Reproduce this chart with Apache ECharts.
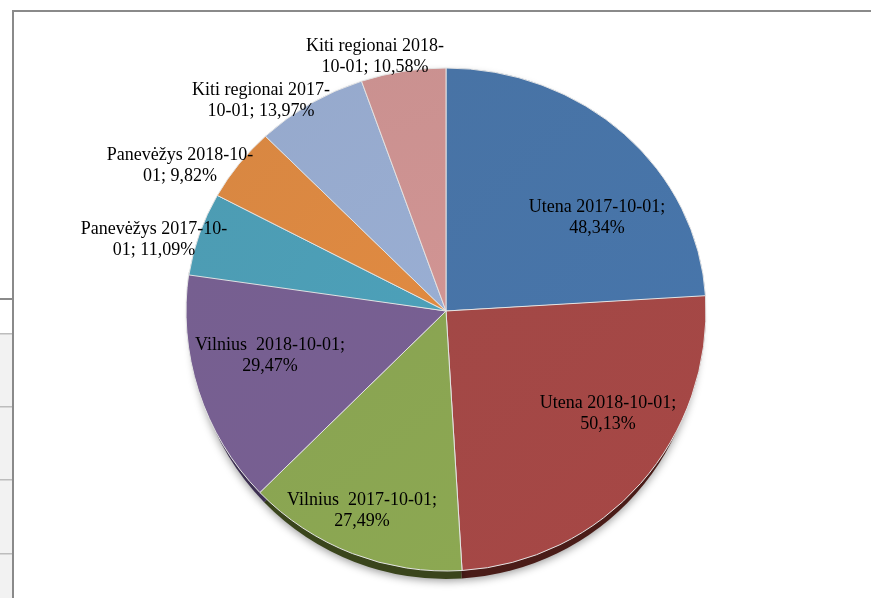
<!DOCTYPE html>
<html>
<head>
<meta charset="utf-8">
<script src="https://cdn.jsdelivr.net/npm/echarts@6/dist/echarts.min.js"></script>
<style>
  html, body { margin: 0; padding: 0; background: #fff; }
  #pie { width: 871px; height: 598px; }
</style>
</head>
<body>
<div id="pie"></div>
<script>
// reiksmes nuskaitytos nuo paveikslo
const names = [
  "Utena 2017-10-01;\n",
  "Utena 2018-10-01;\n",
  "Vilnius  2017-10-01;\n",
  "Vilnius  2018-10-01;\n",
  "Panevėžys 2017-10-\n01; ",
  "Panevėžys 2018-10-\n01; ",
  "Kiti regionai 2017-\n10-01; ",
  "Kiti regionai 2018-\n10-01; ",
];
const values = [48.34, 50.13, 27.49, 29.47, 11.09, 9.82, 13.97, 10.58];
const colors = ["#4571a4", "#a14543", "#87a24f", "#745c8e", "#4a9ab2", "#d8853f", "#94a8cb", "#c98f8e"];
const rimColors = ["#2a4160", "#4a1c18", "#3a451c", "#3d2f52", "#2a5a68", "#7a4a20", "#566278", "#755352"];
// etikeciu centrai
const labelX = [597, 608, 362, 270, 154, 180, 261, 375];
const labelY = [218, 414, 511, 356, 240, 166, 101, 57];
const rowLines = [333, 406, 479, 553];
// virsutines dalies griezinejai (skritulys pasviręs)
const upperSlices = [0, 4, 5, 6, 7];

const centerY = 311;
const chart = echarts.init(document.querySelector("#pie"));

let frame = [
  { type: "rect", z: 0, shape: { x: 0, y: 299, width: 12, height: 299 }, style: { fill: "#f2f2f2" } },
  { type: "rect", z: 0, shape: { x: 0, y: 299, width: 12, height: 34 }, style: { fill: "#fff" } },
  { type: "rect", z: 0, shape: { x: 0, y: 298, width: 13, height: 2 }, style: { fill: "#8a8a8a" } },
  { type: "rect", z: 0, shape: { x: 12, y: 10, width: 2, height: 588 }, style: { fill: "#8a8a8a" } },
  { type: "rect", z: 0, shape: { x: 12, y: 10, width: 859, height: 2 }, style: { fill: "#8a8a8a" } },
];
rowLines.forEach((y) => {
  frame.push({ type: "rect", z: 0, shape: { x: 0, y: y, width: 12, height: 1.5 }, style: { fill: "#bdbdbd" } });
});

// lengvas atspalvis griezinio viduje
function shade(c) {
  return new echarts.graphic.LinearGradient(0, 0, 1, 1, [
    { offset: 0, color: echarts.color.lift(c, 0.02) },
    { offset: 1, color: echarts.color.lift(c, -0.04) },
  ]);
}

let option = {
  animation: false,
  graphic: frame,
  series: [
    {
      // tamsus krastas po skritulio
      type: "pie",
      silent: true,
      z: 1,
      center: [446, 325],
      radius: 254,
      startAngle: 90,
      label: { show: false },
      labelLine: { show: false },
      itemStyle: { shadowBlur: 8, shadowColor: "rgba(0,0,0,0.4)", shadowOffsetY: 2 },
      data: values.map((v, i) => ({ value: v, itemStyle: { color: rimColors[i] } })),
    },
    {
      type: "pie",
      z: 2,
      center: [446, centerY],
      radius: 260,
      startAngle: 90,
      avoidLabelOverlap: false,
      itemStyle: { borderColor: "#e4e4e4", borderWidth: 1 },
      label: {
        show: true,
        position: "inside",
        color: "#000",
        fontFamily: "Liberation Serif",
        fontSize: 18,
        lineHeight: 21,
        align: "center",
        formatter: (p) => p.name + p.value.toFixed(2).replace(".", ",") + "%",
      },
      labelLine: { show: false },
      labelLayout: (p) => ({
        x: labelX[p.dataIndex],
        y: labelY[p.dataIndex],
        align: "center",
        verticalAlign: "middle",
      }),
      data: values.map((v, i) => ({ name: names[i], value: v, itemStyle: { color: shade(colors[i]) } })),
    },
  ],
};
chart.setOption(option);

// virsutine puse suspausta, kaip Excel 3D skritulyje
let pieData = chart.getModel().getSeriesByIndex(1).getData();
upperSlices.forEach((i) => {
  let el = pieData.getItemGraphicEl(i);
  el.originY = centerY;
  el.scaleY = 243 / 260;
  el.markRedraw();
});
</script>
</body>
</html>
